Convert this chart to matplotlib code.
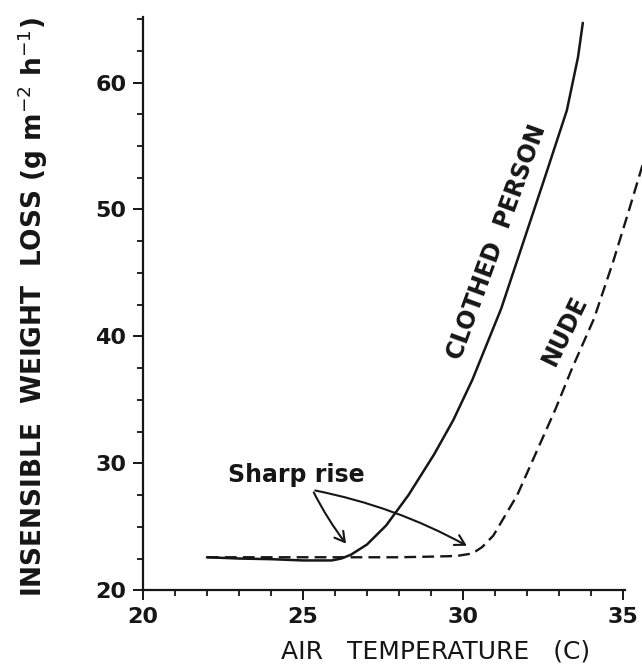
import numpy as np
import matplotlib
matplotlib.use("Agg")
import matplotlib.pyplot as plt
from matplotlib.ticker import MultipleLocator
from matplotlib.patches import FancyArrowPatch

# values
clothed_t = [22.0, 23.0, 24.0, 25.0, 25.9, 26.2, 26.5, 27.0, 27.6, 28.3, 29.1, 29.7,
             30.3, 31.2, 31.9, 32.6, 33.25, 33.6, 33.75]
clothed_w = [22.6, 22.5, 22.45, 22.35, 22.35, 22.5, 22.8, 23.6, 25.1, 27.5, 30.7, 33.4,
             36.6, 42.2, 47.5, 52.8, 57.8, 62.0, 64.7]

nude_t = [22.0, 23.0, 24.0, 25.0, 26.0, 27.0, 28.0, 29.0, 29.8, 30.3, 30.6, 30.95,
          31.7, 32.3, 32.9, 33.4, 34.1, 34.7, 35.2, 35.7]
nude_w = [22.6, 22.6, 22.6, 22.6, 22.6, 22.6, 22.6, 22.65, 22.7, 22.9, 23.4, 24.3,
          27.5, 30.9, 34.3, 37.4, 41.4, 45.9, 50.0, 54.2]

x_ticks = [20, 25, 30, 35]
y_ticks = [20, 30, 40, 50, 60]

ink = "#161616"

fig = plt.figure(figsize=(6.42, 6.7), dpi=100)
ax = fig.add_axes([0.2227, 0.119, 1 - 0.2227, 1 - 0.119])

ax.plot(clothed_t, clothed_w, color=ink, lw=1.8, solid_capstyle="round",
        solid_joinstyle="round", clip_on=False)
nude_line, = ax.plot(nude_t, nude_w, color=ink, lw=1.7)
nude_line.set_dashes((5, 2.6))

ax.set_xlim(20, 35.6)
ax.set_ylim(20, 66.5)

for s in ["top", "right"]:
    ax.spines[s].set_visible(False)
ax.spines["left"].set_bounds(20, 65.15)
ax.spines["bottom"].set_bounds(20, 35.06)
for s in ["left", "bottom"]:
    ax.spines[s].set_linewidth(1.6)
    ax.spines[s].set_color(ink)

ax.set_xticks(x_ticks)
ax.set_yticks(y_ticks)
ax.xaxis.set_minor_locator(MultipleLocator(1))
ax.yaxis.set_minor_locator(MultipleLocator(2.5))
ax.tick_params(which="major", direction="out", length=7, width=1.4, color=ink,
               labelsize=16, labelcolor=ink, pad=5)
ax.tick_params(which="minor", direction="out", length=4, width=1.3, color=ink)
for lab in ax.get_xticklabels() + ax.get_yticklabels():
    lab.set_fontweight("bold")

# axis titles
fig.text(0.678, 0.027, "AIR   TEMPERATURE   (C)", ha="center", va="center",
         fontsize=18, color=ink)
fig.text(0.051, 0.542, "INSENSIBLE  WEIGHT  LOSS (g m$^{-2}$ h$^{-1}$)", ha="center",
         va="center", rotation=90, fontsize=19, color=ink, fontweight="bold")

# curve labels
ax.text(31.06, 47.4, "CLOTHED  PERSON", rotation=70, ha="center", va="center",
        fontsize=17, color=ink, fontweight="bold", rotation_mode="anchor")
ax.text(33.2, 40.5, "NUDE", rotation=64, ha="center", va="center",
        fontsize=17, color=ink, fontweight="bold", rotation_mode="anchor")

# "Sharp rise" with two arrows
ax.text(24.8, 29.1, "Sharp rise", ha="center", va="center", fontsize=17,
        color=ink, fontweight="bold")
start = (25.3, 27.9)
for end, rad in [((26.4, 23.5), 0.05), ((30.2, 23.4), -0.08)]:
    ax.add_patch(FancyArrowPatch(start, end, connectionstyle=f"arc3,rad={rad}",
                                 arrowstyle="->,head_length=7,head_width=4",
                                 color=ink, lw=1.5))

fig.savefig("out.png", dpi=100, facecolor="white")
